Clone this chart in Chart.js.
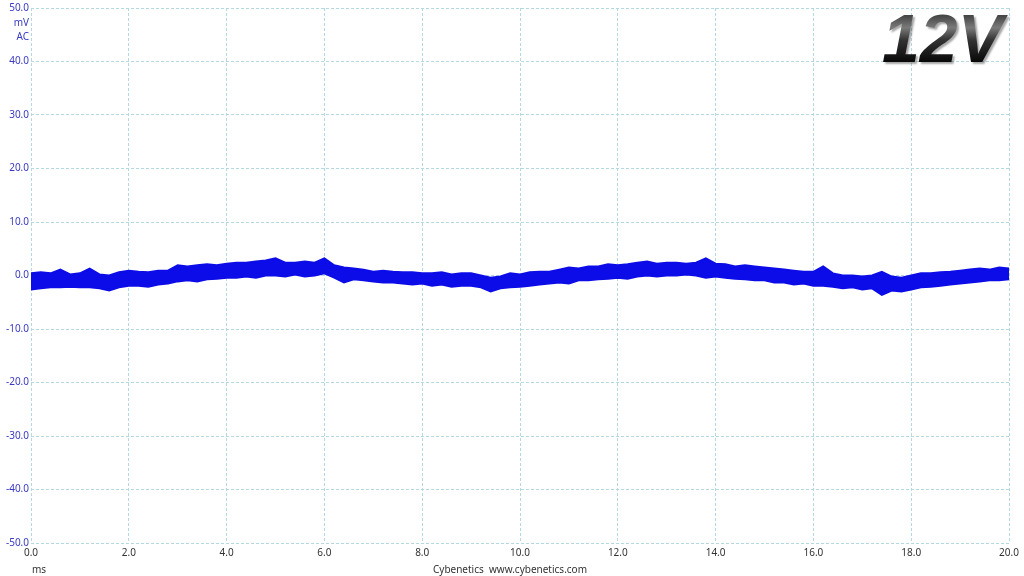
<!DOCTYPE html>
<html>
<head>
<meta charset="utf-8">
<script src="https://cdn.jsdelivr.net/npm/chart.js@4.4.1/dist/chart.umd.min.js"></script>
<style>
  html, body { margin: 0; padding: 0; background: #ffffff; }
  #rippleChart { display: block; }
</style>
</head>
<body>
<canvas id="rippleChart" width="1024" height="576"></canvas>
<script>
// time axis (ms)
var timeMs = [
  0.0, 0.2, 0.4, 0.6, 0.8, 1.0, 1.2, 1.4, 1.6, 1.8,
  2.0, 2.2, 2.4, 2.6, 2.8, 3.0, 3.2, 3.4, 3.6, 3.8,
  4.0, 4.2, 4.4, 4.6, 4.8, 5.0, 5.2, 5.4, 5.6, 5.8,
  6.0, 6.2, 6.4, 6.6, 6.8, 7.0, 7.2, 7.4, 7.6, 7.8,
  8.0, 8.2, 8.4, 8.6, 8.8, 9.0, 9.2, 9.4, 9.6, 9.8,
  10.0, 10.2, 10.4, 10.6, 10.8, 11.0, 11.2, 11.4, 11.6, 11.8,
  12.0, 12.2, 12.4, 12.6, 12.8, 13.0, 13.2, 13.4, 13.6, 13.8,
  14.0, 14.2, 14.4, 14.6, 14.8, 15.0, 15.2, 15.4, 15.6, 15.8,
  16.0, 16.2, 16.4, 16.6, 16.8, 17.0, 17.2, 17.4, 17.6, 17.8,
  18.0, 18.2, 18.4, 18.6, 18.8, 19.0, 19.2, 19.4, 19.6, 19.8,
  20.0
];

// upper edge of the ripple trace (mV)
var rippleMax = [
  0.4, 0.6, 0.4, 1.1, 0.2, 0.4, 1.3, 0.2, 0.0, 0.6,
  0.9, 0.7, 0.6, 0.9, 0.9, 1.9, 1.7, 1.9, 2.1, 1.9,
  2.2, 2.4, 2.4, 2.6, 2.8, 3.2, 2.4, 2.4, 2.6, 2.4,
  3.2, 1.9, 1.5, 1.3, 1.1, 0.7, 0.9, 0.7, 0.6, 0.6,
  0.4, 0.4, 0.6, 0.2, 0.4, 0.4, 0.0, -0.4, -0.2, 0.4,
  0.2, 0.6, 0.7, 0.7, 1.1, 1.5, 1.3, 1.7, 1.7, 2.1,
  1.9, 2.1, 2.4, 2.6, 2.2, 2.4, 2.4, 2.2, 2.4, 3.2,
  2.2, 2.1, 1.7, 1.9, 1.7, 1.5, 1.3, 1.1, 0.9, 0.7,
  0.7, 1.7, 0.4, 0.0, 0.0, -0.2, 0.0, 0.7, -0.2, -0.4,
  0.0, 0.4, 0.4, 0.6, 0.7, 0.9, 1.1, 1.3, 1.1, 1.5,
  1.3
];

// lower edge of the ripple trace (mV)
var rippleMin = [
  -2.6, -2.4, -2.2, -2.2, -2.1, -2.2, -2.2, -2.4, -2.8, -2.2,
  -1.9, -1.9, -2.1, -1.7, -1.5, -1.1, -0.9, -1.1, -0.7, -0.6,
  -0.4, -0.4, -0.2, -0.4, 0.0, 0.0, -0.2, 0.2, -0.2, 0.0,
  0.4, -0.4, -1.3, -0.7, -0.9, -1.1, -1.3, -1.3, -1.5, -1.7,
  -1.5, -1.9, -1.7, -2.1, -1.9, -1.9, -2.2, -3.0, -2.4, -2.2,
  -2.1, -1.9, -1.7, -1.5, -1.3, -1.5, -0.9, -0.9, -0.7, -0.6,
  -0.4, -0.6, -0.2, 0.0, -0.2, 0.0, 0.0, 0.2, 0.0, -0.4,
  -0.2, -0.4, -0.6, -0.7, -0.9, -0.9, -1.3, -1.3, -1.7, -1.5,
  -1.9, -1.9, -2.1, -2.4, -2.2, -2.6, -2.4, -3.6, -2.8, -3.0,
  -2.6, -2.2, -2.1, -1.9, -1.7, -1.5, -1.3, -1.1, -0.9, -0.9,
  -0.7
];

var xRange = [0, 20];
var yRange = [-50, 50];

var TRACE = "rgb(12, 12, 232)";
var TICK_BLUE = "#3a3ac4";
var GRID = "#b4d9e2";
var FONT = "'Noto Sans', 'Open Sans', sans-serif";

function toPoints(values) {
  return timeMs.map(function (t, i) { return { x: t, y: values[i] }; });
}

// extra texts: units, footer, big rail label
var labelsPlugin = {
  id: "extraLabels",
  afterDraw: function (chart) {
    var c = chart.ctx;
    var area = chart.chartArea;
    c.save();
    c.font = "10px " + FONT;
    c.textBaseline = "middle";

    c.fillStyle = TICK_BLUE;
    c.textAlign = "right";
    c.fillText("mV", area.left - 2, 23);
    c.fillText("AC", area.left - 2, 37);

    c.fillStyle = "#333333";
    c.textAlign = "left";
    c.fillText("ms", area.left + 1, 570);
    c.textAlign = "center";
    c.fillText("Cybenetics  www.cybenetics.com", 510, 570);

    // 12V badge
    c.font = "italic bold 68px 'Liberation Sans', Arial, sans-serif";
    c.textAlign = "right";
    c.textBaseline = "alphabetic";
    var g = c.createLinearGradient(0, 13, 0, 62);
    g.addColorStop(0, "#3a3a3a");
    g.addColorStop(0.3, "#7a7a7a");
    g.addColorStop(0.55, "#333333");
    g.addColorStop(1, "#080808");
    c.shadowColor = "rgba(0,0,0,0.35)";
    c.shadowBlur = 2;
    c.shadowOffsetX = 2;
    c.shadowOffsetY = 2;
    c.fillStyle = g;
    c.fillText("12V", 1003, 62);
    c.restore();
  }
};

document.addEventListener("DOMContentLoaded", function () {
  var ctx = document.getElementById("rippleChart").getContext("2d");

  var rippleChart = new Chart(ctx, {
    type: "line",
    data: {
      datasets: [
        {
          label: "max",
          data: toPoints(rippleMax),
          borderColor: TRACE,
          backgroundColor: TRACE,
          borderWidth: 2,
          pointRadius: 0,
          tension: 0,
          fill: "+1",
        },
        {
          label: "min",
          data: toPoints(rippleMin),
          borderColor: TRACE,
          backgroundColor: TRACE,
          borderWidth: 2,
          pointRadius: 0,
          tension: 0,
          fill: false,
        }
      ],
    },
    options: {
      responsive: false,
      animation: false,
      devicePixelRatio: 1,
      layout: { padding: { top: 8, right: 15, left: 0, bottom: 0 } },
      plugins: {
        legend: { display: false },
        tooltip: { enabled: false },
      },
      scales: {
        x: {
          type: "linear",
          min: xRange[0],
          max: xRange[1],
          afterFit: function (scale) { scale.height = 33; },
          grid: { color: GRID, lineWidth: 1, drawTicks: false },
          border: { display: false, dash: [3, 2] },
          ticks: {
            stepSize: 2,
            padding: 4,
            color: "#333333",
            font: { family: FONT, size: 10 },
            maxRotation: 0,
            callback: function (v) { return Number(v).toFixed(1); },
          },
        },
        y: {
          type: "linear",
          min: yRange[0],
          max: yRange[1],
          afterFit: function (scale) { scale.width = 31; },
          grid: { color: GRID, lineWidth: 1, drawTicks: false },
          border: { display: false, dash: [3, 2] },
          ticks: {
            stepSize: 10,
            padding: 2,
            color: TICK_BLUE,
            font: { family: FONT, size: 10 },
            callback: function (v) { return Number(v).toFixed(1); },
          },
        },
      },
    },
    plugins: [labelsPlugin],
  });
});
</script>
</body>
</html>
